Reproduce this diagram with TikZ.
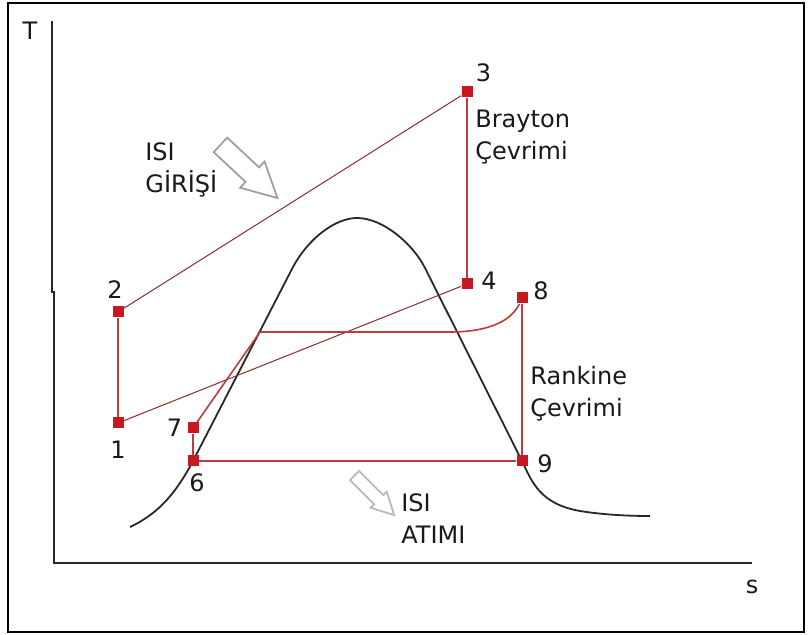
\documentclass[tikz,border=0pt]{standalone}
\usepackage{fontspec}
\setmainfont{DejaVu Sans}
\usetikzlibrary{positioning,shapes.arrows}
\definecolor{ptred}{RGB}{200,25,35}
\definecolor{cycred}{RGB}{190,60,60}
\definecolor{thinred}{RGB}{135,45,45}
\definecolor{txtgray}{RGB}{25,25,25}
\definecolor{domegray}{RGB}{40,40,40}

\begin{document}
\begin{tikzpicture}[x=0.5pt, y=-0.5pt, font=\fontsize{12}{16}\selectfont, text=txtgray,
  pt/.style={fill=ptred, minimum size=5.5pt, inner sep=0pt},
  num/.style={inner sep=0pt},
  txt/.style={inner sep=0pt, align=left, anchor=north west},
  cycline/.style={cycred, line width=0.8pt},
  thinline/.style={thinred, line width=0.5pt},
  heat/.style={single arrow, draw=gray!75, line width=0.9pt, inner sep=0pt, single arrow tip angle=55}]
  \useasboundingbox (0,0) rectangle (808,635);
  \draw[line width=1pt] (8,3) rectangle (804,632);

  % axes
  \draw[line width=1.2pt, domegray] (52,21) -- (52,293);
  \draw[line width=1.2pt, domegray] (54,291) -- (54,563) -- (752,563);
  \node (tlabel) at (30,31) {T};
  \node (slabel) at (752,587) {s};

  % saturation dome
  \draw[domegray, line width=0.9pt] (130,527) .. controls (160,513) and (177,491) .. (193,461)
    -- (293,267) .. controls (308,239) and (335,218) .. (357,218)
    .. controls (383,218) and (413,244) .. (425,268) -- (522,461)
    .. controls (532,482) and (540,504) .. (580,511)
    .. controls (605,515) and (630,516) .. (650,516);

  % state points
  \node[pt] (p1) at (118,423) {};
  \node[pt] (p2) at (118,312) {};
  \node[pt] (p3) at (467,92) {};
  \node[pt] (p4) at (467,284) {};
  \node[pt] (p6) at (193,461) {};
  \node[pt] (p7) at (193,428) {};
  \node[pt] (p8) at (522,298) {};
  \node[pt] (p9) at (522,461) {};
  \coordinate (sat1) at (260,332);
  \coordinate (sat2) at (450,332);

  \node[num, below=6pt of p1] {1};
  \node[num, above=3.5pt of p2, xshift=-1.5pt] {2};
  \node[num, above right=2pt and 1.25pt of p3] {3};
  \node[num, right=4pt of p4, yshift=1.5pt] {4};
  \node[num, left=2.25pt of p7] {7};
  \node[num, below=3pt of p6, xshift=2pt] {6};
  \node[num, right=2.5pt of p8, yshift=3.5pt] {8};
  \node[num, right=4.5pt of p9, yshift=-1.5pt] {9};

  % Brayton
  \draw[cycline] (p1) -- (p2);
  \draw[thinline] (p2) -- (p3);
  \draw[cycline] (p3) -- (p4);
  \draw[thinline] (p4) -- (p1);

  % Rankine
  \draw[cycline] (p6) -- (p9) -- (p8) .. controls (512,320) and (490,332) .. (sat2) -- (sat1) -- (p7) -- (p6);

  \node[txt] (braytontxt) at (475,110) {Brayton\\Çevrimi};
  \node[txt] (rankinetxt) at (530,366) {Rankine\\Çevrimi};
  \node[txt] (heatintxt) at (145,142) {ISI\\GİRİŞİ};
  \node[txt] (heatouttxt) at (401,493) {ISI\\ATIMI};

  \node[heat, inner ysep=4.5pt, single arrow head extend=4pt, minimum height=39pt, rotate=-43] (inarrow) at (242,165) {};
  \node[heat, draw=gray!55, inner ysep=2.75pt, single arrow head extend=2.5pt, minimum height=28pt, rotate=-45] (outarrow) at (370,491) {};
\end{tikzpicture}
\end{document}
